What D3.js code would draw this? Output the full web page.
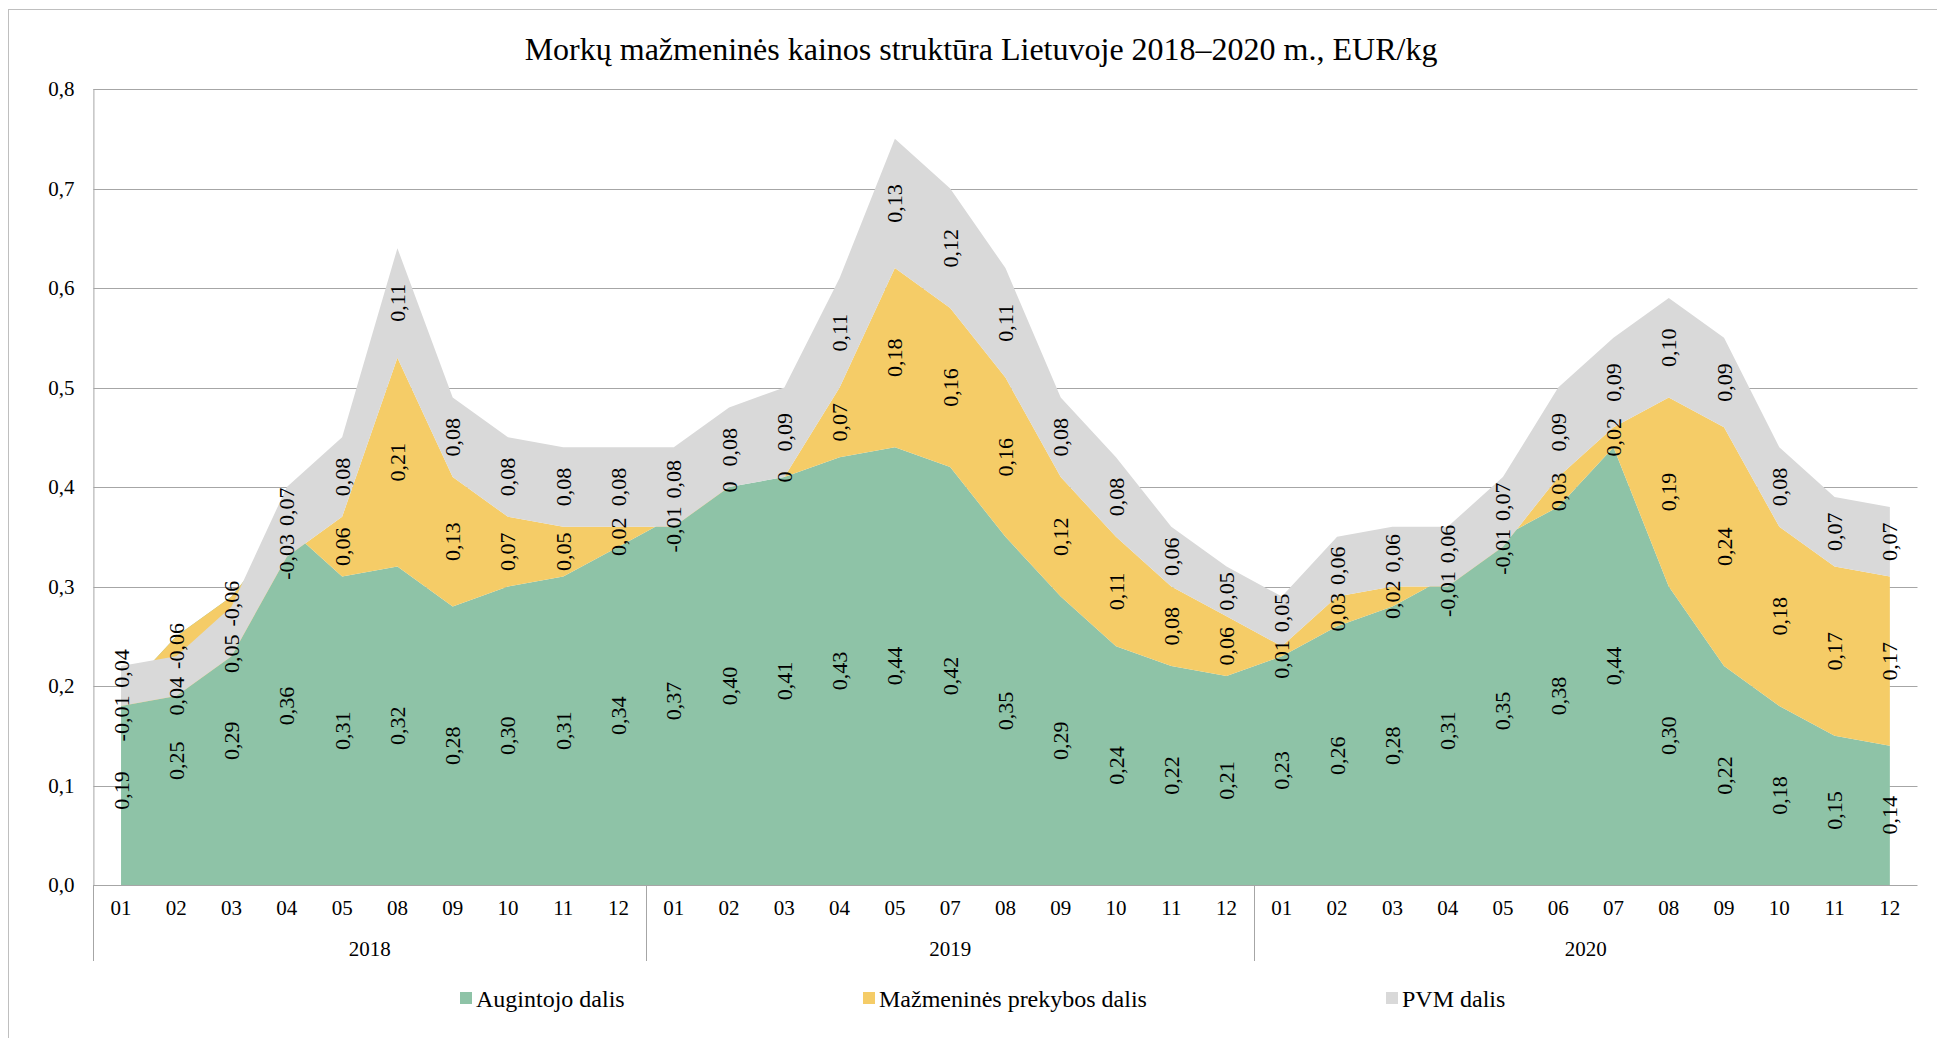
<!DOCTYPE html>
<html>
<head>
<meta charset="utf-8">
<script src="https://cdn.jsdelivr.net/npm/d3@7"></script>
<style>
  html, body { margin: 0; padding: 0; background: #fff; }
  svg { display: block; }
  text { font-family: "Liberation Serif", "Tinos", "Times New Roman", serif; fill: #000; }
</style>
</head>
<body>
<svg id="chart" width="1937" height="1038"></svg>
<script>
// ---- Data ----
const years = ["2018", "2019", "2020"];
const months2018 = ["01","02","03","04","05","08","09","10","11","12"];
const months2019 = ["01","02","03","04","05","07","08","09","10","11","12"];
const months2020 = ["01","02","03","04","05","06","07","08","09","10","11","12"];
const seriesNames = ["Augintojo dalis", "Mažmeninės prekybos dalis", "PVM dalis"];
const augintojo = [0.19,0.25,0.29,0.36,0.31,0.32,0.28,0.30,0.31,0.34,
                   0.37,0.40,0.41,0.43,0.44,0.42,0.35,0.29,0.24,0.22,0.21,
                   0.23,0.26,0.28,0.31,0.35,0.38,0.44,0.30,0.22,0.18,0.15,0.14];
const mazmenine = [-0.01,-0.06,-0.06,-0.03,0.06,0.21,0.13,0.07,0.05,0.02,
                   -0.01,0,0,0.07,0.18,0.16,0.16,0.12,0.11,0.08,0.06,
                   0.01,0.03,0.02,-0.01,-0.01,0.03,0.02,0.19,0.24,0.18,0.17,0.17];
const pvm = [0.04,0.04,0.05,0.07,0.08,0.11,0.08,0.08,0.08,0.08,
             0.08,0.08,0.09,0.11,0.13,0.12,0.11,0.08,0.08,0.06,0.05,
             0.05,0.06,0.06,0.06,0.07,0.09,0.09,0.10,0.09,0.08,0.07,0.07];
const yTicks = [0,0.1,0.2,0.3,0.4,0.5,0.6,0.7,0.8];
const colors = ["#8ec3a7", "#f5cc67", "#d9d9d9"];
const title = "Morkų mažmeninės kainos struktūra Lietuvoje 2018–2020 m., EUR/kg";

// ---- Build table ----
const monthGroups = [months2018, months2019, months2020];
const rows = [];
monthGroups.forEach((ms, gi) => ms.forEach(m => rows.push({year: years[gi], month: m})));
rows.forEach((r, i) => { r.i = i; r.a = augintojo[i]; r.m = mazmenine[i]; r.p = pvm[i]; });

const svg = d3.select("#chart");
const W = 1937, H = 1038;
const pLeft = 93.4, pRight = 1917.5, pTop = 89, pBottom = 885;

// outer border
svg.append("rect").attr("x", 8.5).attr("y", 9.5).attr("width", W).attr("height", H)
  .attr("fill", "none").attr("stroke", "#bfbfbf").attr("stroke-width", 1);

const x = d3.scaleBand().domain(rows.map(r => r.i)).range([pLeft, pRight]).padding(0);
const bw = x.bandwidth();
const cx = i => x(i) + bw / 2;
const y = d3.scaleLinear().domain([0, 0.8]).range([pBottom, pTop]);

// gridlines
svg.append("g").selectAll("line").data(yTicks.filter(t => t > 0)).join("line")
  .attr("x1", pLeft).attr("x2", pRight)
  .attr("y1", d => Math.round(y(d)) + 0.5).attr("y2", d => Math.round(y(d)) + 0.5)
  .attr("stroke", "#a6a6a6").attr("stroke-width", 1);

// stack
const stack = d3.stack().keys(["a", "m", "p"]).offset(d3.stackOffsetNone);
const stacked = stack(rows);
const area = d3.area().x(d => cx(d.data.i)).y0(d => y(d[0])).y1(d => y(d[1]));
svg.append("g").selectAll("path").data(stacked).join("path")
  .attr("d", area).attr("fill", (d, i) => colors[i]);

// axes
const yAxis = d3.axisLeft(y).tickValues(yTicks).tickSize(0).tickPadding(19)
  .tickFormat(d => d.toFixed(1).replace(".", ","));
const gy = svg.append("g").attr("transform", `translate(${pLeft},0)`).call(yAxis);
gy.attr("font-family", null);
gy.select(".domain").remove();
gy.selectAll("text").style("font-size", "21px").attr("fill", "#000");

svg.append("line").attr("x1", pLeft + 0.5).attr("x2", pLeft + 0.5).attr("y1", pTop).attr("y2", pBottom)
  .attr("stroke", "#a6a6a6");
svg.append("line").attr("x1", pLeft).attr("x2", pRight).attr("y1", pBottom + 0.5).attr("y2", pBottom + 0.5)
  .attr("stroke", "#a6a6a6");

// category axis (multi-level)
const xAxis = d3.axisBottom(x).tickSize(0).tickPadding(15).tickFormat(i => rows[i].month);
const gx = svg.append("g").attr("transform", `translate(0,${pBottom})`).call(xAxis);
gx.attr("font-family", null);
gx.select(".domain").remove();
gx.selectAll("text").style("font-size", "21px").attr("fill", "#000");

// year separators and labels
let start = 0;
const bounds = [];
monthGroups.forEach((ms, gi) => { bounds.push([start, start + ms.length - 1]); start += ms.length; });
bounds.forEach(([s, e], gi) => {
  svg.append("line").attr("x1", Math.round(x(s)) + 0.5).attr("x2", Math.round(x(s)) + 0.5)
    .attr("y1", pBottom).attr("y2", 961).attr("stroke", "#a6a6a6");
  svg.append("text").attr("x", (x(s) + x(e) + bw) / 2).attr("y", 956)
    .attr("text-anchor", "middle").style("font-size", "21px").text(years[gi]);
});

// data labels
const fmt = v => v === 0 ? "0" : v.toFixed(2).replace(".", ",");
const lblG = svg.append("g");
rows.forEach((r, i) => {
  const items = stacked.map((s, k) => {
    const d = s[i];
    const val = [r.a, r.m, r.p][k];
    const t = lblG.append("text").attr("text-anchor", "middle").attr("dominant-baseline", "central")
      .style("font-size", "22px").text(fmt(val));
    const len = t.node().getComputedTextLength();
    return {t, c: y((d[0] + d[1]) / 2), len};
  });
  for (let iter = 0; iter < 60; iter++) {
    let moved = false;
    const sorted = items.slice().sort((a, b) => b.c - a.c);
    for (let k = 0; k < sorted.length - 1; k++) {
      const lo = sorted[k], hi = sorted[k + 1];
      const need = (lo.len + hi.len) / 2 + 8;
      const gap = lo.c - hi.c;
      if (gap < need - 0.01) {
        const push = (need - gap) / 2;
        lo.c += push; hi.c -= push; moved = true;
      }
    }
    if (!moved) break;
  }
  items.forEach(it => it.t.attr("transform", `translate(${cx(i)},${it.c}) rotate(-90)`));
});

// title
svg.append("text").attr("x", 981).attr("y", 60).attr("text-anchor", "middle")
  .style("font-size", "32px").text(title);

// legend
const legX = [460, 863, 1386];
const lg = svg.append("g");
seriesNames.forEach((n, k) => {
  lg.append("rect").attr("x", legX[k]).attr("y", 992).attr("width", 12).attr("height", 12).attr("fill", colors[k]);
  lg.append("text").attr("x", legX[k] + 16).attr("y", 999).attr("dominant-baseline", "central")
    .style("font-size", "24px").text(n);
});
</script>
</body>
</html>
